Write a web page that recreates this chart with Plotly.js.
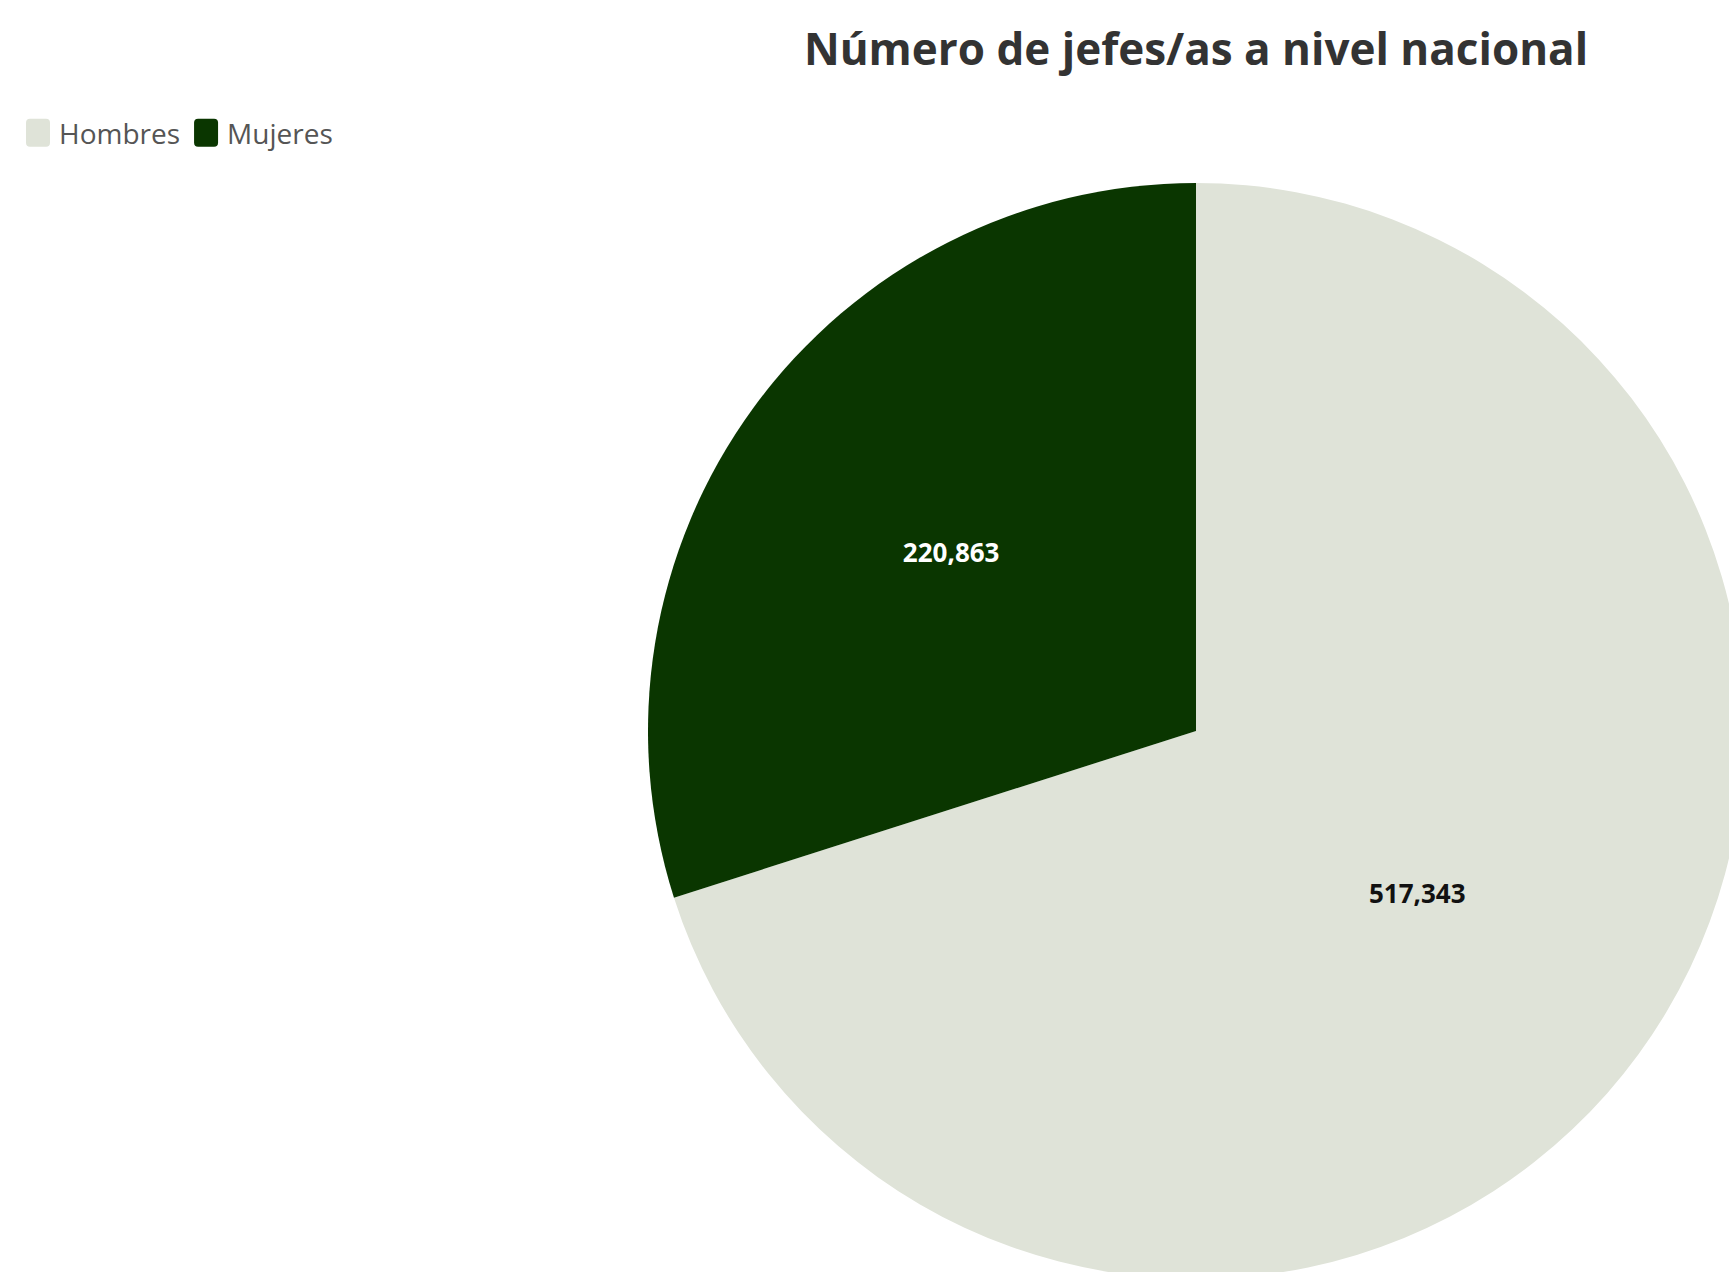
<!DOCTYPE html>
<html>
<head>
<meta charset="utf-8">
<script src="https://cdn.plot.ly/plotly-3.0.1.min.js"></script>
<style>
html, body { margin: 0; padding: 0; overflow: hidden; background: #fff; }
#chart { width: 1744px; height: 1279px; }
</style>
</head>
<body>
<div id="chart"></div>
<script>
const categories = ["Hombres", "Mujeres"];
const values = [517343, 220863];
const colors = ["#dfe3d8", "#0a3600"];
const textColors = ["#111111", "#ffffff"];

const W = 1744, H = 1279;
const ML = 648, MT = 183;
const PW = W - ML, PH = H - MT;

const data = [{
  type: "pie",
  labels: categories,
  values: values,
  sort: false,
  direction: "clockwise",
  rotation: 0,
  marker: { colors: colors, line: { width: 0 } },
  textinfo: "value",
  texttemplate: "%{value:,}",
  textposition: "inside",
  insidetextorientation: "horizontal",
  insidetextfont: { family: "Open Sans, sans-serif", size: 26, color: textColors, weight: "bold" },
  hoverinfo: "label+value",
  domain: { x: [0, 1], y: [0, 1] }
}];

const layout = {
  width: W,
  height: H,
  margin: { l: ML, r: 0, t: MT, b: 0, pad: 0 },
  paper_bgcolor: "#ffffff",
  title: {
    text: "<b>Número de jefes/as a nivel nacional</b>",
    xref: "container",
    yref: "container",
    x: 1196 / W,
    xanchor: "center",
    y: 1 - 50 / H,
    yanchor: "middle",
    font: { family: "Open Sans, sans-serif", size: 44, color: "#333333" }
  },
  showlegend: true,
  legend: {
    orientation: "h",
    x: (17 - ML) / PW,
    xanchor: "left",
    y: 1 + (MT - 108) / PH,
    yanchor: "top",
    font: { family: "Open Sans, sans-serif", size: 28, color: "#555555" },
    itemwidth: 32,
    traceorder: "normal"
  }
};

Plotly.newPlot("chart", data, layout, { displayModeBar: false, responsive: false }).then(function (gd) {
  // taller rounded legend swatches, like the reference
  const r = 4, w = 12, h = 14;
  const d = "M" + (-w + r) + "," + (-h) + "H" + (w - r) +
    "A" + r + "," + r + " 0 0 1 " + w + "," + (-h + r) +
    "V" + (h - r) + "A" + r + "," + r + " 0 0 1 " + (w - r) + "," + h +
    "H" + (-w + r) + "A" + r + "," + r + " 0 0 1 " + (-w) + "," + (h - r) +
    "V" + (-h + r) + "A" + r + "," + r + " 0 0 1 " + (-w + r) + "," + (-h) + "Z";
  gd.querySelectorAll(".legend .legendpoints path").forEach(function (p) {
    p.setAttribute("d", d);
  });
});
</script>
</body>
</html>
